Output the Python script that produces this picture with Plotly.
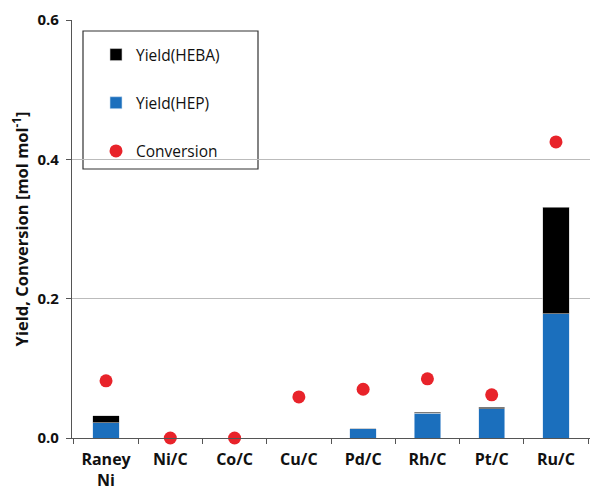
import plotly.graph_objects as go

catalysts = ["Raney<br>Ni", "Ni/C", "Co/C", "Cu/C", "Pd/C", "Rh/C", "Pt/C", "Ru/C"]
yield_hep = [0.022, 0.0, 0.0, 0.0, 0.013, 0.0355, 0.042, 0.178]
yield_heba = [0.010, 0.0, 0.0, 0.0, 0.0, 0.0015, 0.0025, 0.153]
conversion = [0.082, 0.0, 0.0, 0.059, 0.070, 0.085, 0.062, 0.425]
y_ticks = [0.0, 0.2, 0.4, 0.6]

FONT = "Open Sans, sans-serif"
BLUE = "#1b6fbd"
RED = "#e8232a"

fig = go.Figure()
fig.add_trace(go.Bar(
    x=catalysts, y=yield_hep, name="Yield(HEP)",
    marker=dict(color=BLUE, line=dict(color="#cfe0f2", width=0.6)),
    width=0.41, legendrank=2, legendgroup="hep",
))
fig.add_trace(go.Bar(
    x=catalysts, y=yield_heba, name="Yield(HEBA)",
    marker=dict(color="#000000", line=dict(color="#cccccc", width=0.6)),
    width=0.41, legendrank=1, legendgroup="heba",
))
fig.add_trace(go.Scatter(
    x=catalysts, y=conversion, name="Conversion", mode="markers",
    marker=dict(color=RED, size=13),
    legendrank=3, legendgroup="conv", cliponaxis=False,
))

# legend frame
fig.add_shape(type="rect", xref="paper", yref="paper",
              x0=(83 - 72) / 518, x1=(258 - 72) / 518,
              y0=(438 - 169) / 418, y1=(438 - 31) / 418,
              line=dict(color="#333333", width=1.2), fillcolor="white", layer="below")

fig.update_layout(
    width=590, height=492,
    margin=dict(l=72, r=0, t=20, b=54),
    paper_bgcolor="white", plot_bgcolor="white",
    barmode="stack", bargap=0.59,
    font=dict(family=FONT, size=14, color="#111111"),
    showlegend=True,
    legend=dict(
        x=(96 - 72) / 518, y=(438 - 38) / 418, xanchor="left", yanchor="top",
        bgcolor="rgba(0,0,0,0)", borderwidth=0,
        font=dict(family=FONT, size=15.5, color="#111111"),
        tracegroupgap=25, traceorder="grouped",
    ),
    xaxis=dict(
        type="category", tickson="boundaries",
        ticks="outside", ticklen=5, tickcolor="#555555",
        showline=True, linecolor="#555555", linewidth=1.2,
        showgrid=False, ticklabelstandoff=7,
        tickfont=dict(family=FONT, size=16, color="#111111"),
        tickvals=catalysts, ticktext=[f"<b>{c}</b>" for c in catalysts],
    ),
    yaxis=dict(
        range=[0, 0.6], tickvals=y_ticks,
        ticktext=[f"<b>{v:.1f}</b>" for v in y_ticks],
        ticks="outside", ticklen=5, tickcolor="#555555",
        showline=True, linecolor="#555555", linewidth=1.2,
        showgrid=True, gridcolor="#bbbbbb", gridwidth=1,
        zeroline=False, ticklabelstandoff=4,
        tickfont=dict(family=FONT, size=15, color="#111111"),
        title=dict(text="<b>Yield, Conversion [mol mol<sup>-1</sup>]</b>",
                   font=dict(family=FONT, size=16.5, color="#111111"),
                   standoff=4),
    ),
)

fig.write_html("out.html")
